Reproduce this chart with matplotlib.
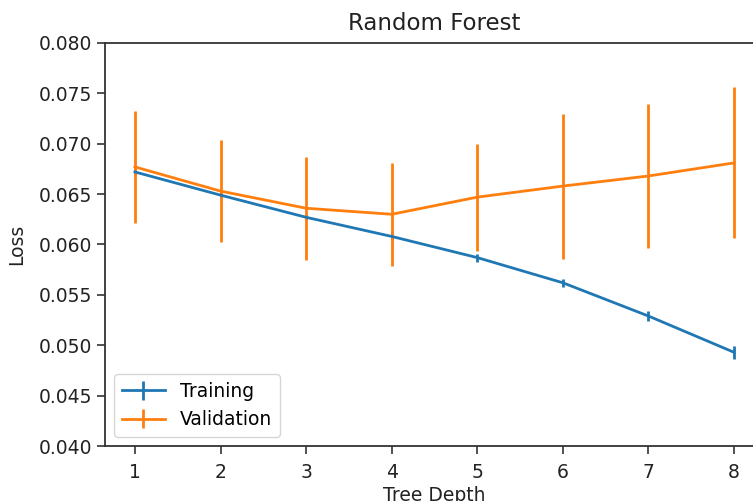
import numpy as np
from matplotlib import pyplot as plt

depth = [1, 2, 3, 4, 5, 6, 7, 8]
train_loss = [0.0672, 0.0649, 0.0627, 0.0608, 0.0587, 0.0562, 0.0529, 0.0493]
train_err = [0.0003, 0.0003, 0.0003, 0.0004, 0.0004, 0.0004, 0.00045, 0.00065]
val_loss = [0.0677, 0.0653, 0.0636, 0.0630, 0.0647, 0.0658, 0.0668, 0.0681]
val_err = [0.0056, 0.0051, 0.0051, 0.0051, 0.0053, 0.0072, 0.0071, 0.0075]

fig = plt.figure(figsize=(7.53, 5.01), dpi=100)
ax = fig.add_axes([105 / 753, 55 / 501, 659 / 753, 403 / 501])

ax.errorbar(depth, train_loss, yerr=train_err, label='Training', lw=2, elinewidth=2)
ax.errorbar(depth, val_loss, yerr=val_err, label='Validation', lw=2, elinewidth=2)

ax.set_ylim(0.040, 0.080)
ax.set_xticks(depth)
ax.set_title('Random Forest', fontsize=16.5, pad=9, color='#222222')
ax.set_xlabel('Tree Depth', fontsize=13.5, labelpad=3, color='#222222')
ax.set_ylabel('Loss', fontsize=13.5, labelpad=9, color='#222222')
ax.tick_params(labelsize=13.5, length=6, width=1.2, color='#333333', labelcolor='#222222')
ax.tick_params(axis='x', pad=6)
for s in ax.spines.values():
    s.set_linewidth(1.3)
    s.set_color('#333333')
ax.legend(loc='lower left', fontsize=13.5, handlelength=2.3)

fig.savefig('out.png', dpi=100)
